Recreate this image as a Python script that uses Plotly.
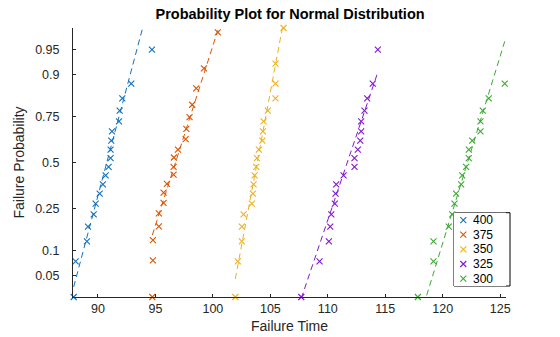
import plotly.graph_objects as go
from statistics import NormalDist

nd = NormalDist()

labels = ["400", "375", "350", "325", "300"]
colors = ["#1171BE", "#DD5400", "#EDB120", "#8516D1", "#3BAA32"]

x400 = [87.89, 88.06, 89.04, 89.13, 89.63, 89.80, 90.15, 90.43, 90.67, 90.93,
        91.10, 91.10, 91.16, 91.22, 91.83, 91.89, 92.12, 92.90, 94.70]
p400 = [0.025, 0.075, 0.125, 0.175, 0.225, 0.275, 0.325, 0.375, 0.425, 0.475,
        0.525, 0.575, 0.625, 0.675, 0.725, 0.775, 0.825, 0.875, 0.95]

x375 = [94.73, 94.78, 94.78, 95.30, 95.30, 95.71, 95.71, 96.00, 96.58, 96.58,
        96.61, 96.96, 97.63, 97.69, 97.97, 98.20, 98.55, 99.22, 100.43]
p375 = [0.025, 0.077, 0.129, 0.176, 0.229, 0.278, 0.33, 0.378, 0.43, 0.475,
        0.529, 0.575, 0.633, 0.688, 0.746, 0.80, 0.86, 0.915, 0.971]

x350 = [101.95, 102.17, 102.52, 102.52, 102.67, 103.39, 103.48, 103.54, 103.63, 103.77,
        103.83, 104.00, 104.30, 104.35, 104.41, 104.78, 105.45, 105.45, 105.45, 106.15]
p350 = [0.025, 0.075, 0.125, 0.175, 0.225, 0.275, 0.325, 0.375, 0.425, 0.475,
        0.525, 0.575, 0.625, 0.675, 0.725, 0.775, 0.825, 0.875, 0.925, 0.975]

x325 = [107.69, 109.28, 110.09, 110.21, 110.30, 110.61, 110.67, 110.73, 111.37, 112.32,
        112.32, 112.61, 112.82, 112.90, 112.90, 113.19, 113.42, 113.91, 114.35]
p325 = [0.025, 0.075, 0.125, 0.175, 0.225, 0.275, 0.325, 0.375, 0.425, 0.475,
        0.525, 0.575, 0.625, 0.675, 0.725, 0.775, 0.825, 0.875, 0.95]

x300 = [117.83, 119.19, 119.19, 120.52, 120.82, 121.02, 121.16, 121.60, 121.69, 122.03,
        122.26, 122.26, 122.56, 123.28, 123.28, 123.48, 124.00, 125.39]
p300 = [0.025, 0.075, 0.125, 0.175, 0.225, 0.275, 0.325, 0.375, 0.425, 0.475,
        0.525, 0.575, 0.625, 0.675, 0.725, 0.775, 0.825, 0.875]

# fitted normal parameters
mus = [90.77, 96.75, 103.85, 111.69, 122.15]
sigmas = [1.59, 1.91, 1.12, 2.02, 1.835]

xs = [x400, x375, x350, x325, x300]
ps = [p400, p375, p350, p325, p300]

tick_probs = [0.05, 0.1, 0.25, 0.5, 0.75, 0.9, 0.95]
tick_text = ["0.05", "0.1", "0.25", "0.5", "0.75", "0.9", "0.95"]
x_ticks = [90, 95, 100, 105, 110, 115, 120, 125]

fig = go.Figure()
for lab, col, xv, pv in zip(labels, colors, xs, ps):
    fig.add_trace(go.Scatter(
        x=xv, y=[nd.inv_cdf(p) for p in pv], mode="markers", name=lab,
        marker=dict(symbol="x-thin", size=6, color=col, line=dict(color=col, width=1.1)),
        cliponaxis=False, showlegend=False,
    ))
for col, xv, mu, sg in zip(colors, xs, mus, sigmas):
    lx = [min(xv), max(xv)]
    fig.add_trace(go.Scatter(
        x=lx, y=[(v - mu) / sg for v in lx], mode="lines", showlegend=False,
        line=dict(color=col, width=1, dash="6px,4px"), hoverinfo="skip",
    ))

# compact legend (MATLAB style) drawn in an overlay axis
n = len(labels)
fig.add_trace(go.Scatter(
    x=[9.3] * n, y=[n - 0.5 - i for i in range(n)], mode="markers",
    marker=dict(symbol="x-thin", size=6, color=colors, line=dict(color=colors, width=1.1)),
    xaxis="x2", yaxis="y2", showlegend=False, hoverinfo="skip", cliponaxis=False,
))
annotations = [
    dict(x=16.5, y=n - 0.5 - i, xref="x2", yref="y2", text=lab, showarrow=False,
         xanchor="left", yanchor="middle", font=dict(size=12, color="#000000"))
    for i, lab in enumerate(labels)
]

zlim = nd.inv_cdf(0.025)
axcol = "#262626"
L, R, T, B = 73, 54, 28, 40
W, H = 560, 337
pw, ph = W - L - R, H - T - B
box = dict(x0=454, x1=510, y0=212.7, y1=286)

fig.update_layout(
    width=W, height=H,
    margin=dict(l=L, r=R, t=T, b=B),
    plot_bgcolor="white", paper_bgcolor="white",
    font=dict(family="Liberation Sans, Arial, sans-serif", size=12.5, color=axcol),
    title=dict(text="<b>Probability Plot for Normal Distribution</b>", x=0.518, xanchor="center",
               y=0.958, yanchor="middle", font=dict(size=14.5, color="#000000")),
    xaxis=dict(range=[87.83, 125.5], tickvals=x_ticks, ticks="inside", ticklen=3,
               tickcolor=axcol, showline=True, linecolor=axcol, linewidth=1,
               showgrid=False, zeroline=False, mirror=False, automargin=False,
               title=dict(text="Failure Time", font=dict(size=14), standoff=6)),
    yaxis=dict(range=[zlim, -zlim], tickvals=[nd.inv_cdf(p) for p in tick_probs],
               ticktext=tick_text, ticks="inside", ticklen=3, tickcolor=axcol,
               showline=True, linecolor=axcol, linewidth=1, showgrid=False,
               zeroline=False, ticklabelstandoff=10, automargin=False,
               title=dict(text="Failure Probability", font=dict(size=14), standoff=7)),
    xaxis2=dict(domain=[(box["x0"] - L) / pw, 1.0], range=[0, (L + pw) - box["x0"]],
                visible=False, anchor="y2", fixedrange=True),
    yaxis2=dict(domain=[(H - B - box["y1"]) / ph, (H - B - box["y0"]) / ph], range=[0, n],
                visible=False, anchor="x2", fixedrange=True),
    shapes=[dict(type="rect", xref="paper", yref="paper",
                 x0=(box["x0"] - L) / pw, x1=(box["x1"] - L) / pw,
                 y0=(H - B - box["y1"]) / ph, y1=(H - B - box["y0"]) / ph,
                 line=dict(color="#000000", width=1), fillcolor="white", layer="below")],
    annotations=annotations,
    showlegend=False,
)
fig.write_html("out.html")
